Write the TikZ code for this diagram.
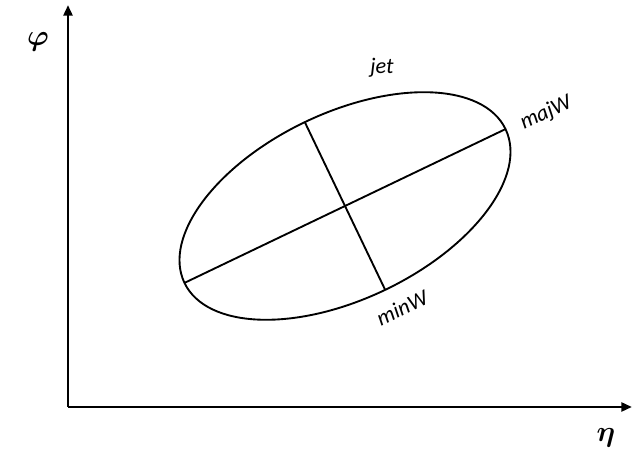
\documentclass[tikz,border=0pt]{standalone}
\usepackage{amsmath, amssymb}
\usepackage{bm}
\usepackage{fontspec}
\newfontfamily\labelfont{Carlito}
\usepackage{tikz}
\usetikzlibrary{arrows.meta}
\tikzset{
    axis/.style={line width=2.4pt, -{Triangle[length=9pt, width=7.5pt]}},
    jetline/.style={line width=1.6pt},
    axislabel/.style={font=\fontsize{28}{30}\selectfont},
    widthlabel/.style={font=\labelfont\itshape\fontsize{19}{21}\selectfont, rotate=25.6}
}
\begin{document}
\begin{tikzpicture}[x=0.03cm, y=0.03cm]
    \useasboundingbox[fill=white] (0,0) rectangle (641,460);

    % axes
    \coordinate (origin) at (68,53);
    \coordinate (ytop) at (68,455);
    \coordinate (xend) at (632,53);
    \draw[axis] (origin) -- (ytop);
    \draw[axis] (origin) -- (xend);
    \node[axislabel] (phi) at (38,418) {$\bm{\varphi}$};
    \node[axislabel] (eta) at (606,22) {$\bm{\eta}$};

    % jet ellipse
    \coordinate (c) at (345,254);
    \begin{scope}[shift={(c)}, rotate=25.6]
        \draw[jetline] (0,0) ellipse [x radius=178, y radius=93];
        \coordinate (majL) at (-178,0);
        \coordinate (majR) at (178,0);
        \coordinate (minT) at (0,93);
        \coordinate (minB) at (0,-93);
    \end{scope}
    \draw[jetline] (majL) -- (majR);
    \draw[jetline] (minT) -- (minB);

    \node[font=\labelfont\itshape\fontsize{19}{21}\selectfont] (jet) at (382,392) {jet};
    \node[widthlabel] (majw) at (546,347) {majW};
    \node[widthlabel] (minw) at (402,152) {minW};
\end{tikzpicture}
\end{document}
